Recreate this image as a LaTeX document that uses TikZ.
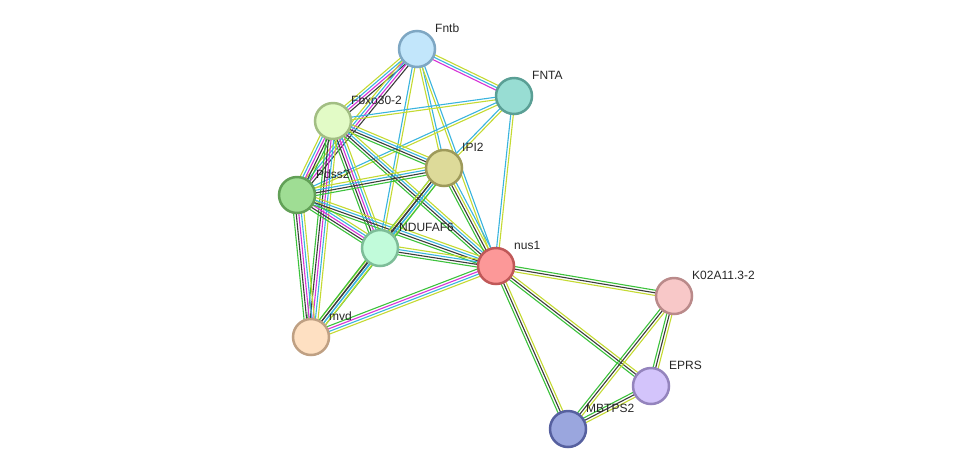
\documentclass[tikz,border=0pt]{standalone}
\usepackage{fontspec}
\setmainfont{Liberation Sans}
\usetikzlibrary{calc,backgrounds}
\definecolor{G}{HTML}{3CC23C}
\definecolor{K}{HTML}{3C3C3C}
\definecolor{Y}{HTML}{C4DA32}
\definecolor{C}{HTML}{3AB4DE}
\definecolor{M}{HTML}{D633D6}
\newcommand\sedge[3]{%
  \xdef\nn{0}%
  \foreach \c in {#3}{\xdef\nn{\the\numexpr\nn+1\relax}}%
  \foreach \c [count=\i] in {#3}{%
    \pgfmathsetmacro\off{(\i-(\nn+1)/2)*2.6}%
    \draw[edgeline,color=\c] ($(#1.center)!\off pt!90:(#2.center)$) -- ($(#2.center)!\off pt!-90:(#1.center)$);%
  }%
}
\tikzset{
  prot/.style={circle,minimum size=36pt,inner sep=0pt,line width=2.5pt},
  lbl/.style={anchor=west,inner sep=0pt,font=\fontsize{12}{14}\selectfont,text=black!85},
  edgeline/.style={line width=1.1pt}
}
\begin{document}
\begin{tikzpicture}[x=1pt,y=-1pt]
\useasboundingbox (0,0) rectangle (976,475);
\node[prot,fill={rgb,255:red,194;green,230;blue,251},draw={rgb,255:red,126;green,167;blue,195}] (fntb) at (417,49) {};
\node[prot,fill={rgb,255:red,152;green,221;blue,211},draw={rgb,255:red,90;green,159;blue,149}] (fnta) at (514,96) {};
\node[prot,fill={rgb,255:red,226;green,251;blue,198},draw={rgb,255:red,162;green,190;blue,131}] (fbxo) at (333,121) {};
\node[prot,fill={rgb,255:red,221;green,218;blue,153},draw={rgb,255:red,158;green,154;blue,90}] (ipi) at (444,168) {};
\node[prot,fill={rgb,255:red,159;green,221;blue,148},draw={rgb,255:red,98;green,160;blue,87}] (pdss) at (297,195) {};
\node[prot,fill={rgb,255:red,193;green,251;blue,218},draw={rgb,255:red,125;green,189;blue,152}] (nduf) at (380,248) {};
\node[prot,fill={rgb,255:red,252;green,152;blue,152},draw={rgb,255:red,192;green,88;blue,88}] (nus) at (496,266) {};
\node[prot,fill={rgb,255:red,248;green,200;blue,200},draw={rgb,255:red,186;green,138;blue,138}] (k02) at (674,296) {};
\node[prot,fill={rgb,255:red,254;green,224;blue,194},draw={rgb,255:red,191;green,160;blue,131}] (mvd) at (311,337) {};
\node[prot,fill={rgb,255:red,211;green,196;blue,251},draw={rgb,255:red,148;green,132;blue,189}] (eprs) at (651,386) {};
\node[prot,fill={rgb,255:red,154;green,166;blue,222},draw={rgb,255:red,86;green,96;blue,159}] (mbt) at (568,429) {};
\begin{pgfonlayer}{background}
\sedge{fntb}{fnta}{M,C,Y}
\sedge{fntb}{fbxo}{Y,C,M,K}
\sedge{fntb}{pdss}{Y,C,M,K}
\sedge{fntb}{nduf}{C,Y}
\sedge{fntb}{ipi}{Y,C}
\sedge{fntb}{nus}{Y,C}
\sedge{fnta}{fbxo}{C,Y}
\sedge{fnta}{pdss}{C,Y}
\sedge{fnta}{ipi}{C,Y}
\sedge{fnta}{nus}{C,Y}
\sedge{fbxo}{pdss}{Y,C,M,K,G}
\sedge{fbxo}{ipi}{G,K,C,Y}
\sedge{fbxo}{nduf}{G,K,M,C,Y}
\sedge{fbxo}{nus}{G,K,C,Y}
\sedge{fbxo}{mvd}{G,K,M,C,Y}
\sedge{pdss}{ipi}{G,K,C,Y}
\sedge{pdss}{nduf}{G,K,M,C,Y}
\sedge{pdss}{nus}{G,K,C,Y}
\sedge{pdss}{mvd}{G,K,M,C,Y}
\sedge{ipi}{nduf}{G,K,C,Y}
\sedge{ipi}{mvd}{Y,K,C,G}
\sedge{ipi}{nus}{G,K,Y,C}
\sedge{nduf}{nus}{G,K,C,Y}
\sedge{nduf}{mvd}{G,K,C,Y}
\sedge{nus}{mvd}{G,M,C,Y}
\sedge{nus}{k02}{Y,K,G}
\sedge{nus}{eprs}{G,K,Y}
\sedge{nus}{mbt}{G,K,Y}
\sedge{k02}{mbt}{G,K,Y}
\sedge{k02}{eprs}{G,K,Y}
\sedge{eprs}{mbt}{G,K,Y}
\end{pgfonlayer}
\node[lbl] (lfntb) at (435,28) {Fntb};
\node[lbl] (lfnta) at (532,75) {FNTA};
\node[lbl] (lfbxo) at (351,100) {Fbxo30-2};
\node[lbl] (lipi) at (462,147) {IPI2};
\node[lbl] (lpdss) at (316,174) {Pdss2};
\node[lbl] (lnduf) at (399,227) {NDUFAF6};
\node[lbl] (lnus) at (514,245) {nus1};
\node[lbl] (lk02) at (692,275) {K02A11.3-2};
\node[lbl] (lmvd) at (329,316) {mvd};
\node[lbl] (leprs) at (669,365) {EPRS};
\node[lbl] (lmbt) at (586,408) {MBTPS2};
\end{tikzpicture}
\end{document}
